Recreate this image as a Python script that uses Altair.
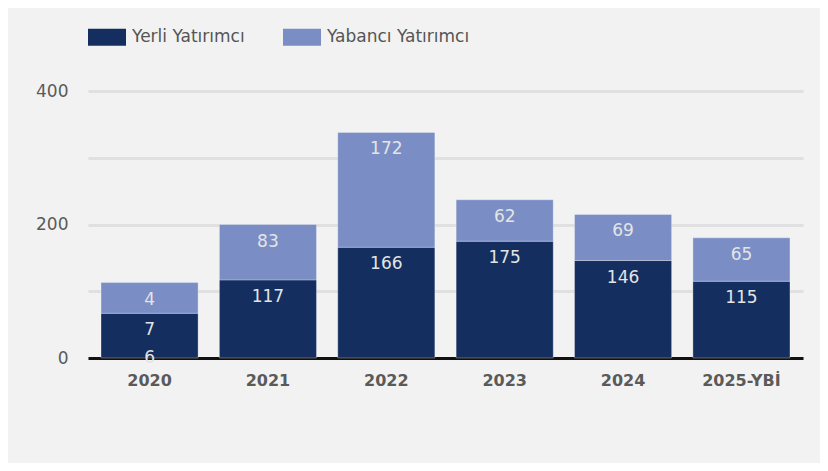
import altair as alt
import pandas as pd

years = ["2020", "2021", "2022", "2023", "2024", "2025-YBİ"]
yerli = [67, 117, 166, 175, 146, 115]
yabanci = [46, 83, 172, 62, 69, 65]
yerli_labels = ["7", "117", "166", "175", "146", "115"]
yabanci_labels = ["4", "83", "172", "62", "69", "65"]
series = ["Yerli Yatırımcı", "Yabancı Yatırımcı"]
colors = ["#142e5f", "#7a8ec5"]

rows = []
for i, y in enumerate(years):
    rows.append({"year": y, "series": series[0], "value": yerli[i], "order": 0,
                 "start": 0, "end": yerli[i], "label": yerli_labels[i]})
    rows.append({"year": y, "series": series[1], "value": yabanci[i], "order": 1,
                 "start": yerli[i], "end": yerli[i] + yabanci[i], "label": yabanci_labels[i]})
df = pd.DataFrame(rows)

extra = pd.DataFrame({"year": ["2020"], "end": [0], "label": ["6"]})

FONT = "DejaVu Sans"

x = alt.X("year:N", sort=years, title=None,
          scale=alt.Scale(paddingInner=0.18, paddingOuter=0.11),
          axis=alt.Axis(labelAngle=0, labelColor="#5a5a5a", labelFontSize=16,
                        labelFontWeight="bold", labelFont=FONT, labelPadding=14,
                        domainColor="#111111", domainWidth=3, ticks=False, grid=False))

bars = alt.Chart(df).mark_bar(stroke="#ffffff", strokeWidth=0.6, strokeOpacity=0.5).encode(
    x=x,
    y=alt.Y("start:Q", title=None, scale=alt.Scale(domain=[0, 400], nice=False),
            axis=alt.Axis(values=[0, 100, 200, 300, 400],
                          labelExpr="datum.value % 200 == 0 ? datum.label : ''",
                          labelColor="#5a5a5a", labelFontSize=17, labelFont=FONT,
                          labelFontWeight="normal", labelPadding=20,
                          domain=False, ticks=False, gridColor="#e0e0e0", gridWidth=3)),
    y2="end:Q",
    color=alt.Color("series:N", sort=series,
                    scale=alt.Scale(domain=series, range=colors),
                    legend=alt.Legend(title=None, orient="none", legendX=0, legendY=-73,
                                      direction="horizontal",
                                      symbolType="M-1,-0.45H1V0.45H-1Z", symbolSize=1444,
                                      symbolStrokeWidth=0, symbolOpacity=1,
                                      labelFontSize=17, labelColor="#555555", labelFont=FONT,
                                      labelOffset=6, columnPadding=38)),
    order="order:Q",
)

texts = alt.Chart(df).mark_text(baseline="middle", dy=17, fontSize=17, font=FONT,
                                color="#e4e4e4").encode(
    x=alt.X("year:N", sort=years),
    y=alt.Y("end:Q"),
    text="label:N",
)

extra_text = alt.Chart(extra).mark_text(baseline="middle", dy=0, fontSize=17, font=FONT,
                                        color="#e4e4e4").encode(
    x=alt.X("year:N", sort=years),
    y=alt.Y("end:Q"),
    text="label:N",
)

chart = alt.layer(bars, texts, extra_text).properties(
    width=715, height=267,
    padding={"left": 80, "top": 83, "right": 17, "bottom": 105},
    autosize=alt.AutoSizeParams(type="none"),
    background="#f2f2f2",
).configure_view(stroke=None)

chart.save("out.html", embed_options={"renderer": "svg", "actions": False})
